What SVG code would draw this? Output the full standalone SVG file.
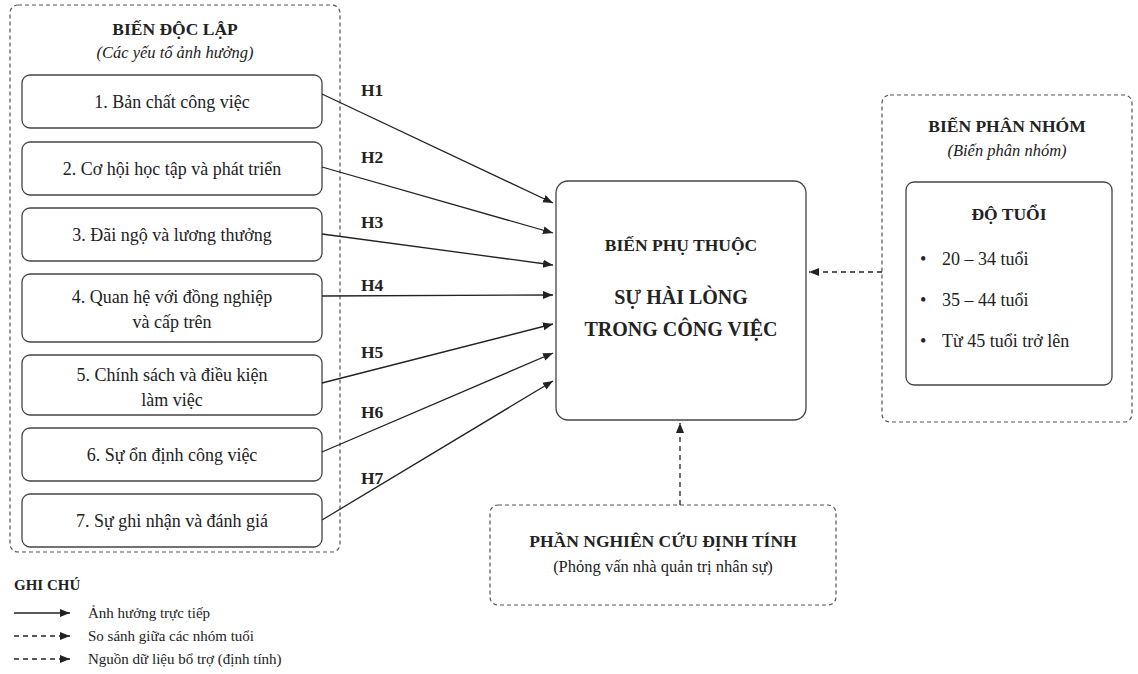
<svg xmlns="http://www.w3.org/2000/svg" width="1138" height="674" viewBox="0 0 1138 674">
<style>
text{font-family:"Liberation Serif","DejaVu Serif",serif;fill:#222}
.b{font-weight:bold}
.i{font-style:italic}
.box{fill:#fff;stroke:#444;stroke-width:1.3}
.dash{fill:none;stroke:#555;stroke-width:1.2;stroke-dasharray:4 3}
.ln{stroke:#222;stroke-width:1.3;fill:none}
.dl{stroke:#222;stroke-width:1.3;fill:none;stroke-dasharray:5 4}
</style>
<defs><marker id="a" viewBox="0 0 10 10" refX="10" refY="5" markerWidth="10" markerHeight="10" markerUnits="userSpaceOnUse" orient="auto"><path d="M0,1 L10,5 L0,9 z" fill="#222"/></marker></defs>
<rect width="1138" height="674" fill="#fff"/>
<g id="independent">
<rect class="dash" x="10" y="5" width="330" height="547" rx="8"/>
<text class="b" x="175" y="35" text-anchor="middle" font-size="17.5">BIẾN ĐỘC LẬP</text>
<text class="i" x="175" y="58" text-anchor="middle" font-size="16.5">(Các yếu tố ảnh hưởng)</text>
</g>
<g id="n1"><rect class="box" x="22" y="75" width="300" height="53" rx="8"/><text x="172" y="108" text-anchor="middle" font-size="18">1. Bản chất công việc</text></g>
<g id="n2"><rect class="box" x="22" y="142" width="300" height="53" rx="8"/><text x="172" y="175" text-anchor="middle" font-size="18">2. Cơ hội học tập và phát triển</text></g>
<g id="n3"><rect class="box" x="22" y="208" width="300" height="53" rx="8"/><text x="172" y="241" text-anchor="middle" font-size="18">3. Đãi ngộ và lương thưởng</text></g>
<g id="n4"><rect class="box" x="22" y="274" width="300" height="68" rx="8"/><text x="172" y="303" text-anchor="middle" font-size="18">4. Quan hệ với đồng nghiệp</text><text x="172" y="328" text-anchor="middle" font-size="18">và cấp trên</text></g>
<g id="n5"><rect class="box" x="22" y="355" width="300" height="60" rx="8"/><text x="172" y="381" text-anchor="middle" font-size="18">5. Chính sách và điều kiện</text><text x="172" y="406" text-anchor="middle" font-size="18">làm việc</text></g>
<g id="n6"><rect class="box" x="22" y="428" width="300" height="53" rx="8"/><text x="172" y="461" text-anchor="middle" font-size="18">6. Sự ổn định công việc</text></g>
<g id="n7"><rect class="box" x="22" y="494" width="300" height="53" rx="8"/><text x="172" y="527" text-anchor="middle" font-size="18">7. Sự ghi nhận và đánh giá</text></g>
<g id="dependent"><rect class="box" x="556" y="181" width="250" height="239" rx="12"/>
<text class="b" x="681" y="251" text-anchor="middle" font-size="17.5">BIẾN PHỤ THUỘC</text>
<text class="b" x="681" y="304" text-anchor="middle" font-size="20">SỰ HÀI LÒNG</text>
<text class="b" x="681" y="336" text-anchor="middle" font-size="20">TRONG CÔNG VIỆC</text></g>
<g id="group"><rect class="dash" x="882" y="95" width="250" height="327" rx="8"/>
<text class="b" x="1007" y="132" text-anchor="middle" font-size="17.5">BIẾN PHÂN NHÓM</text>
<text class="i" x="1007" y="156" text-anchor="middle" font-size="16.5">(Biến phân nhóm)</text>
<rect class="box" x="906" y="182" width="206" height="203" rx="8"/>
<text class="b" x="1009" y="220" text-anchor="middle" font-size="17.5">ĐỘ TUỔI</text>
<text x="920" y="265" font-size="18">•<tspan x="942">20 – 34 tuổi</tspan></text>
<text x="920" y="306" font-size="18">•<tspan x="942">35 – 44 tuổi</tspan></text>
<text x="920" y="347" font-size="18">•<tspan x="942">Từ 45 tuổi trở lên</tspan></text></g>
<g id="qual"><rect class="dash" x="490" y="505" width="346" height="100" rx="8"/>
<text class="b" x="663" y="547" text-anchor="middle" font-size="17.5">PHẦN NGHIÊN CỨU ĐỊNH TÍNH</text>
<text x="663" y="572" text-anchor="middle" font-size="16.5">(Phỏng vấn nhà quản trị nhân sự)</text></g>
<g id="connectors">
<path class="ln" marker-end="url(#a)" d="M322,94 L553,203"/>
<path class="ln" marker-end="url(#a)" d="M322,167 L553,233"/>
<path class="ln" marker-end="url(#a)" d="M322,234 L553,265"/>
<path class="ln" marker-end="url(#a)" d="M322,296 L553,295"/>
<path class="ln" marker-end="url(#a)" d="M322,383 L553,324"/>
<path class="ln" marker-end="url(#a)" d="M322,452 L553,353"/>
<path class="ln" marker-end="url(#a)" d="M322,520 L553,381"/>
<path class="dl" marker-end="url(#a)" d="M882,272 L809,272"/>
<path class="dl" marker-end="url(#a)" d="M680,505 L680,423"/>
<g font-size="17.5">
<text class="b" x="361" y="96">H1</text><text class="b" x="361" y="163">H2</text><text class="b" x="361" y="228">H3</text><text class="b" x="361" y="291">H4</text><text class="b" x="361" y="358">H5</text><text class="b" x="361" y="418">H6</text><text class="b" x="361" y="484">H7</text>
</g></g>
<g id="legend">
<text class="b" x="14" y="590" font-size="15">GHI CHÚ</text>
<path class="ln" marker-end="url(#a)" d="M14,613 L70,613"/>
<path class="dl" marker-end="url(#a)" d="M14,636 L70,636" stroke-dasharray="4 3"/>
<path class="dl" marker-end="url(#a)" d="M14,659 L70,659" stroke-dasharray="4 3"/>
<text x="88" y="618" font-size="15">Ảnh hưởng trực tiếp</text>
<text x="88" y="641" font-size="15">So sánh giữa các nhóm tuổi</text>
<text x="88" y="664" font-size="15">Nguồn dữ liệu bổ trợ (định tính)</text>
</g>
</svg>
